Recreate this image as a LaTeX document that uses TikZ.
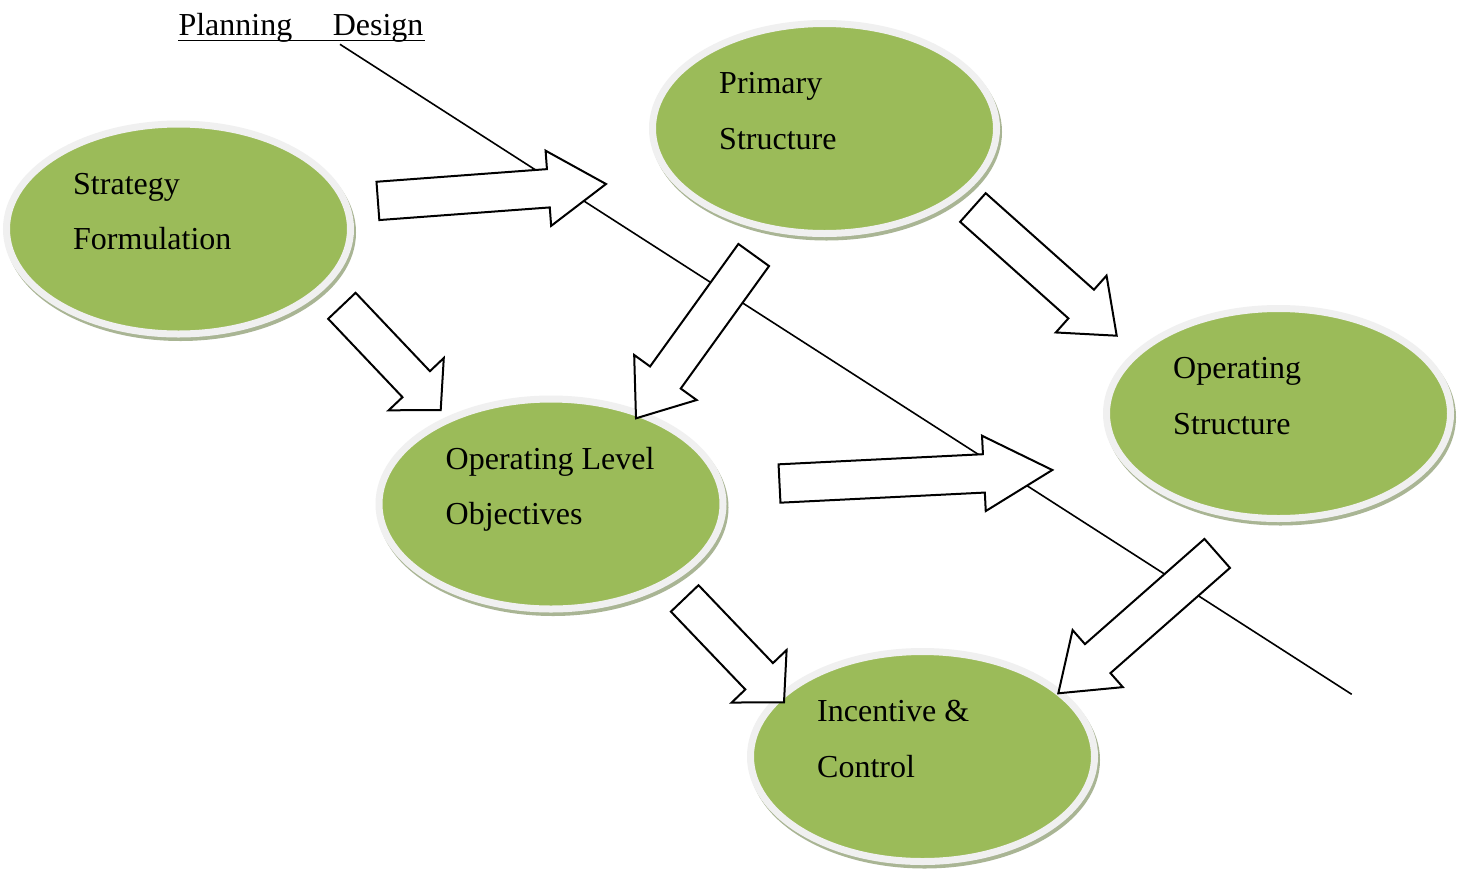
\documentclass[tikz,border=0pt]{standalone}
\usepackage{fontspec}
\setmainfont{Liberation Serif}
\usetikzlibrary{shapes.geometric,calc}
\definecolor{ovalgreen}{HTML}{9BBB59}
\definecolor{ringgrey}{HTML}{F0F0F0}
\definecolor{shadowgreen}{HTML}{A9B594}
% tail, tip, shaft half width, head half width, head length
\newcommand\blockarr[5]{%
  \coordinate (hb) at ($(#2)!#5!(#1)$);
  \filldraw[arrowbox] ($(#1)!#3!90:(#2)$) -- ($(hb)!#3!90:(#2)$) -- ($(hb)!#4!90:(#2)$) -- (#2)
    -- ($(hb)!#4!-90:(#2)$) -- ($(hb)!#3!-90:(#2)$) -- ($(#1)!#3!-90:(#2)$) -- cycle;
}
\tikzset{
  oval/.style={ellipse, draw=ringgrey, line width=7pt, fill=ovalgreen,
    minimum width=344pt, minimum height=210pt, inner sep=0pt},
  ovalshadow/.style={fill=shadowgreen},
  lbl/.style={font=\fontsize{32}{38}\selectfont, inner sep=0pt, anchor=base west, text=black},
  arrowbox/.style={draw=black, fill=white, line width=2pt, line join=miter},
  guide/.style={draw=black, line width=1.6pt},
}
\begin{document}
\begin{tikzpicture}[x=1pt,y=-1pt]
\useasboundingbox[fill=white] (0,0) rectangle (1461,868);

% centres
\coordinate (cS) at (178.5,229);
\coordinate (cP) at (824.5,128.5);
\coordinate (cOS) at (1278.5,413.5);
\coordinate (cOL) at (551,504);
\coordinate (cIC) at (922.5,756.5);

% shadows
\foreach \c in {cS,cP,cOS,cOL,cIC}{
  \fill[ovalshadow] ($(\c)+(2,3.5)$) ellipse [x radius=175.5pt, y radius=108.5pt];
}

% ovals
\node[oval] (S) at (cS) {};
\node[oval] (P) at (cP) {};
\node[oval] (OS) at (cOS) {};
\node[oval] (OL) at (cOL) {};
\node[oval] (IC) at (cIC) {};

% texts
\node[lbl] (S1) at ($(S.center)+(-105.5,-35)$) {Strategy};
\node[lbl] (S2) at ($(S.center)+(-105.5,20.5)$) {Formulation};
\node[lbl] (P1) at ($(P.center)+(-105.5,-35)$) {Primary};
\node[lbl] (P2) at ($(P.center)+(-105.5,20.5)$) {Structure};
\node[lbl] (OS1) at ($(OS.center)+(-105.5,-35)$) {Operating};
\node[lbl] (OS2) at ($(OS.center)+(-105.5,20.5)$) {Structure};
\node[lbl] (OL1) at ($(OL.center)+(-105.5,-35)$) {Operating Level};
\node[lbl] (OL2) at ($(OL.center)+(-105.5,20.5)$) {Objectives};
\node[lbl] (IC1) at ($(IC.center)+(-105.5,-35)$) {Incentive \&};
\node[lbl] (IC2) at ($(IC.center)+(-105.5,20.5)$) {Control};

% title
\node[lbl] (title) at (178.3,35.5) {Planning\hspace{40.5pt}Design};
\draw[line width=1.5pt] ($(title.base west)+(0,5)$) -- ($(title.base east)+(1,5)$);

% long guide line
\coordinate (g1) at (340,44.3);
\coordinate (g2) at (1351.7,694.3);
\draw[guide] (g1) -- (g2);

% block arrows
\coordinate (a1t) at (377.9,200.9); \coordinate (a1h) at (606,184);
\coordinate (a2t) at (753.7,255);   \coordinate (a2h) at (636,418.3);
\coordinate (a3t) at (972.9,207.5); \coordinate (a3h) at (1116.7,335.7);
\coordinate (a4t) at (341.9,305.8); \coordinate (a4h) at (440.7,410);
\coordinate (a5t) at (779.5,483.5); \coordinate (a5h) at (1052.3,470);
\coordinate (a6t) at (684.7,598.4); \coordinate (a6h) at (784,702.3);
\coordinate (a7t) at (1217.2,553.4);\coordinate (a7h) at (1058.3,693.3);

\blockarr{a1t}{a1h}{19.2pt}{37.7pt}{57.8pt}
\blockarr{a2t}{a2h}{18.9pt}{38.5pt}{50.3pt}
\blockarr{a3t}{a3h}{19.2pt}{38.1pt}{47.6pt}
\blockarr{a4t}{a4h}{18.9pt}{38pt}{35.6pt}
\blockarr{a5t}{a5h}{19.2pt}{37.7pt}{68.5pt}
\blockarr{a6t}{a6h}{19.1pt}{38pt}{36pt}
\blockarr{a7t}{a7h}{19.3pt}{38pt}{52.5pt}
\end{tikzpicture}
\end{document}
